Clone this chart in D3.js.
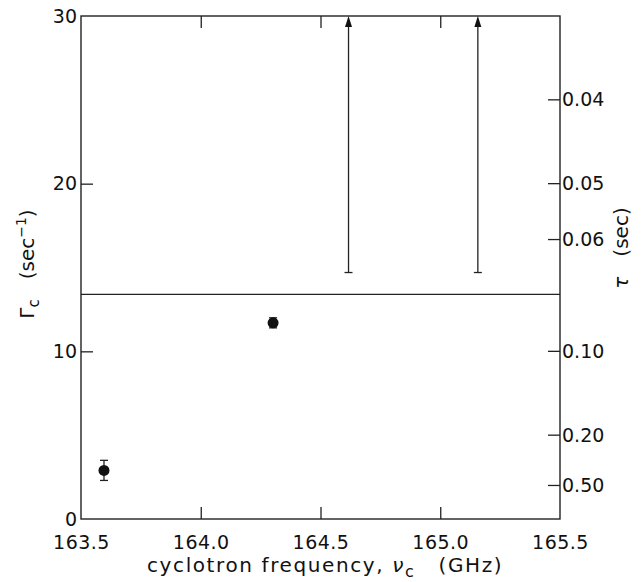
<!DOCTYPE html>
<html>
<head>
<meta charset="utf-8">
<script src="https://cdn.jsdelivr.net/npm/d3@7"></script>
<style>
  body { margin: 0; background: #fff; }
  text { font-family: 'DejaVu Sans', sans-serif; fill: #111; }
</style>
</head>
<body>
<svg id="chart" width="642" height="582"></svg>
<script>
// measured points (GHz, sec^-1)
const freqs = [163.596, 164.302];
const gammas = [2.9, 11.7];
const gammaErrs = [0.6, 0.3];

// lower limits drawn as arrows
const limitFreqs = [164.617, 165.157];
const limitGammas = [14.7, 14.7];

const threshold = 13.4;

const xTicks = [163.5, 164.0, 164.5, 165.0, 165.5];
const yTicks = [0, 10, 20, 30];
const tauTicks = [0.04, 0.05, 0.06, 0.10, 0.20, 0.50];
const tauLabels = ['0.04', '0.05', '0.06', '0.10', '0.20', '0.50'];

const svg = d3.select('#chart');
const margin = { top: 16, right: 82, bottom: 63, left: 81 };
const width = +svg.attr('width');
const height = +svg.attr('height');
const ink = '#222';

const x = d3.scaleLinear()
  .domain([163.5, 165.5])
  .range([margin.left, width - margin.right]);

const y = d3.scaleLinear()
  .domain([0, 30])
  .range([height - margin.bottom, margin.top]);

const x0 = x.range()[0], x1 = x.range()[1];
const y0 = y.range()[0], y1 = y.range()[1];

// frame
svg.append('rect')
  .attr('x', x0).attr('y', y1)
  .attr('width', x1 - x0).attr('height', y0 - y1)
  .attr('fill', 'none').attr('stroke', ink).attr('stroke-width', 1.4);

const tickLen = 12;

// bottom axis
const xAxis = d3.axisBottom(x)
  .tickValues(xTicks)
  .tickFormat(d3.format('.1f'))
  .tickSizeInner(-tickLen)
  .tickSizeOuter(0)
  .tickPadding(17);

svg.append('g')
  .attr('transform', 'translate(0,' + y0 + ')')
  .call(xAxis)
  .call(g => g.select('.domain').remove())
  .call(g => g.selectAll('.tick line').attr('stroke', ink).attr('stroke-width', 1.3))
  .call(g => g.selectAll('.tick text').style('font-size', '19px').style('letter-spacing', '0.5px').attr('fill', '#111'))
  .call(g => g.selectAll('.tick').filter(d => d === 163.5 || d === 165.5).select('line').remove());

// top axis ticks
svg.append('g')
  .attr('transform', 'translate(0,' + y1 + ')')
  .call(d3.axisTop(x).tickValues(xTicks).tickSizeInner(-tickLen).tickSizeOuter(0).tickFormat(''))
  .call(g => g.select('.domain').remove())
  .call(g => g.selectAll('.tick line').attr('stroke', ink).attr('stroke-width', 1.3))
  .call(g => g.selectAll('.tick').filter(d => d === 163.5 || d === 165.5).remove());

// left axis
svg.append('g')
  .attr('transform', 'translate(' + x0 + ',0)')
  .call(d3.axisLeft(y).tickValues(yTicks).tickSizeInner(-tickLen).tickSizeOuter(0).tickPadding(4))
  .call(g => g.select('.domain').remove())
  .call(g => g.selectAll('.tick line').attr('stroke', ink).attr('stroke-width', 1.3))
  .call(g => g.selectAll('.tick text').style('font-size', '19px').attr('fill', '#111'))
  .call(g => g.selectAll('.tick').filter(d => d === 0 || d === 30).select('line').remove());

// right axis: tau = 1 / gamma
const yTau = t => y(1 / t);
svg.append('g')
  .attr('transform', 'translate(' + x1 + ',0)')
  .selectAll('g')
  .data(tauTicks)
  .join('g')
  .attr('transform', d => 'translate(0,' + yTau(d) + ')')
  .call(g => g.append('line')
    .attr('x1', -tickLen).attr('x2', 0)
    .attr('stroke', ink).attr('stroke-width', 1.3))
  .call(g => g.append('text')
    .attr('x', 2).attr('dy', '0.35em')
    .style('font-size', '19px')
    .text((d, i) => tauLabels[i]));

// threshold line
svg.append('line')
  .attr('x1', x0).attr('x2', x1)
  .attr('y1', y(threshold)).attr('y2', y(threshold))
  .attr('stroke', ink).attr('stroke-width', 1.3);

// lower-limit arrows
const limits = limitFreqs.map((f, i) => ({ f, g: limitGammas[i] }));
const arr = svg.append('g').selectAll('g').data(limits).join('g');
arr.append('line')
  .attr('x1', d => x(d.f)).attr('x2', d => x(d.f))
  .attr('y1', d => y(d.g)).attr('y2', y(30) + 8)
  .attr('stroke', ink).attr('stroke-width', 1.3);
arr.append('line')
  .attr('x1', d => x(d.f) - 4).attr('x2', d => x(d.f) + 4)
  .attr('y1', d => y(d.g)).attr('y2', d => y(d.g))
  .attr('stroke', ink).attr('stroke-width', 1.3);
arr.append('path')
  .attr('d', d => {
    const cx = x(d.f), ty = y(30);
    return 'M' + cx + ',' + ty + 'L' + (cx - 3.5) + ',' + (ty + 11) + 'L' + (cx + 3.5) + ',' + (ty + 11) + 'Z';
  })
  .attr('fill', '#111');

// data points with error bars
const pts = freqs.map((f, i) => ({ f, g: gammas[i], e: gammaErrs[i] }));
const pg = svg.append('g').selectAll('g').data(pts).join('g');
pg.append('line')
  .attr('x1', d => x(d.f)).attr('x2', d => x(d.f))
  .attr('y1', d => y(d.g - d.e)).attr('y2', d => y(d.g + d.e))
  .attr('stroke', ink).attr('stroke-width', 1.3);
pg.selectAll('.cap')
  .data(d => [d.g - d.e, d.g + d.e].map(v => ({ f: d.f, v })))
  .join('line')
  .attr('x1', d => x(d.f) - 4).attr('x2', d => x(d.f) + 4)
  .attr('y1', d => y(d.v)).attr('y2', d => y(d.v))
  .attr('stroke', ink).attr('stroke-width', 1.3);
pg.append('circle')
  .attr('cx', d => x(d.f)).attr('cy', d => y(d.g))
  .attr('r', 5.5).attr('fill', '#111');

// axis titles
const xt = svg.append('text')
  .attr('x', 147).attr('y', 572)
  .style('font-size', '20px')
  .style('letter-spacing', '1.6px');
xt.append('tspan').text('cyclotron frequency, ');
xt.append('tspan').style('font-style', 'italic').text('ν');
xt.append('tspan').attr('dy', 5).style('font-size', '16px').text('c');
xt.append('tspan').attr('dy', -5).text('\u2002\u2002(GHz)');

const lt = svg.append('text')
  .attr('transform', 'translate(34,264) rotate(-90)')
  .attr('text-anchor', 'middle')
  .style('font-size', '20px');
lt.append('tspan').text('Γ');
lt.append('tspan').attr('dy', 5).style('font-size', '15px').text('c');
lt.append('tspan').attr('dy', -5).text('\u2002\u2002(sec');
lt.append('tspan').attr('dy', -8).style('font-size', '14px').text('−1');
lt.append('tspan').attr('dy', 8).text(')');

const rt = svg.append('text')
  .attr('transform', 'translate(628,248) rotate(-90)')
  .attr('text-anchor', 'middle')
  .style('font-size', '20px');
rt.append('tspan').style('font-style', 'italic').text('τ');
rt.append('tspan').text('\u2002\u2002(sec)');
</script>
</body>
</html>
